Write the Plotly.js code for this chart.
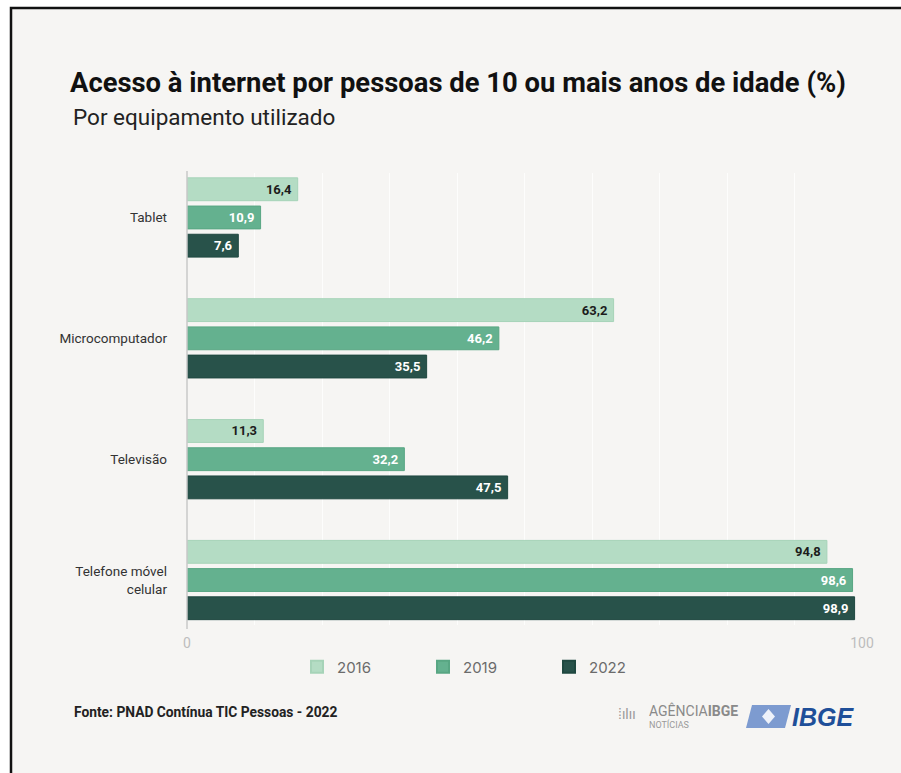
<!DOCTYPE html>
<html>
<head>
<meta charset="utf-8">
<script src="https://cdn.plot.ly/plotly-3.0.1.min.js"></script>
<style>html,body{margin:0;padding:0;background:#ffffff;}#chart{width:901px;height:773px;}</style>
</head>
<body>
<div id="chart"></div>
<script>
// ---- data ----
const categories = ["Tablet", "Microcomputador", "Televisão", "Telefone móvel<br>celular"];
const years = ["2016", "2019", "2022"];
const values2016 = [16.4, 63.2, 11.3, 94.8];
const values2019 = [10.9, 46.2, 32.2, 98.6];
const values2022 = [7.6, 35.5, 47.5, 98.9];
const xTickVals = [0, 100];
const xTickText = ["0", "100"];

// ---- styles ----
const COND = 'Roboto, "Liberation Sans", sans-serif';
const colors = ["#b4dcc4", "#64b18f", "#28524a"];
const lineColors = ["#a6d3b8", "#58a683", "#1f4840"];
const textColors = ["#1c1c1c", "#ffffff", "#ffffff"];
const seriesValues = [values2016, values2019, values2022];

const L = 187, R = 862, T = 173, B = 625;
const W = 901, H = 773;
const px = x => (x - L) / (R - L);
const py = y => (B - y) / (B - T);

const traces = years.map((yr, i) => ({
  type: "bar",
  orientation: "h",
  name: yr,
  y: categories,
  x: seriesValues[i],
  marker: {color: colors[i], line: {color: lineColors[i], width: 1}},
  texttemplate: "%{x:.1f}\u00a0",
  textposition: "inside",
  insidetextanchor: "end",
  constraintext: "none",
  textfont: {family: COND, size: 13, color: textColors[i], weight: "bold"},
  hoverinfo: "skip"
}));

const layout = {
  width: W, height: H,
  separators: ",.",
  paper_bgcolor: "#ffffff",
  plot_bgcolor: "rgba(0,0,0,0)",
  margin: {l: L, r: W - R, t: T, b: H - B, pad: 0},
  barmode: "group",
  bargap: 0.3,
  bargroupgap: 0.19,
  title: {
    text: "<b>Acesso à internet por pessoas de 10 ou mais anos de idade (%)</b>",
    x: 70 / W, xanchor: "left", xref: "container",
    y: 1 - 82 / H, yanchor: "middle", yref: "container",
    font: {family: COND, size: 27.4, color: "#111111"}
  },
  xaxis: {
    range: [0, 100],
    tickvals: xTickVals, ticktext: xTickText,
    showgrid: true, gridcolor: "#fdfdfc", gridwidth: 1,
    minor: {dtick: 10, showgrid: true, gridcolor: "#fdfdfc", gridwidth: 1, ticks: ""},
    zeroline: false,
    showline: false,
    ticks: "",
    tickfont: {family: COND, size: 14, color: "#bdbdbd"},
    ticklabelstandoff: 8,
    fixedrange: true
  },
  yaxis: {
    type: "category",
    categoryarray: categories,
    range: [3.372, -0.368],
    showgrid: false,
    zeroline: false,
    ticks: "",
    ticklabelstandoff: 19,
    tickfont: {family: COND, size: 13.5, color: "#333333"},
    fixedrange: true
  },
  legend: {
    orientation: "h",
    x: px(297), xanchor: "left",
    y: py(667), yanchor: "middle",
    font: {family: "Inter, sans-serif", size: 15, color: "#6b6b6b"},
    entrywidth: 81, entrywidthmode: "pixels",
    itemsizing: "constant",
    bgcolor: "rgba(0,0,0,0)"
  },
  shapes: [
    {type: "rect", xref: "paper", yref: "paper", layer: "below",
     x0: px(11), x1: px(915), y0: py(8), y1: py(790),
     fillcolor: "#f6f5f3", line: {color: "#111111", width: 2.5}},
    {type: "line", xref: "paper", yref: "paper", layer: "above",
     x0: 0, x1: 0, y0: py(T - 2), y1: py(629),
     line: {color: "#c9c9c9", width: 1.5}},
    {type: "path", xref: "paper", yref: "paper", layer: "above",
     path: `M ${px(752)} ${py(705)} L ${px(791)} ${py(705)} L ${px(785)} ${py(728)} L ${px(746)} ${py(728)} Z`,
     fillcolor: "#7d9bd0", line: {width: 0}},
    {type: "path", xref: "paper", yref: "paper", layer: "above",
     path: `M ${px(768.5)} ${py(709)} L ${px(775)} ${py(716.5)} L ${px(768.5)} ${py(724)} L ${px(762)} ${py(716.5)} Z`,
     fillcolor: "#eef2fa", line: {width: 0}}
  ],
  annotations: [
    {text: "Por equipamento utilizado", xref: "paper", yref: "paper",
     x: px(71), y: py(117), xanchor: "left", yanchor: "middle", showarrow: false,
     font: {family: COND, size: 22.5, color: "#222222"}},
    {text: "<b>Fonte: PNAD Contínua TIC Pessoas - 2022</b>", xref: "paper", yref: "paper",
     x: px(72), y: py(712), xanchor: "left", yanchor: "middle", showarrow: false,
     font: {family: COND, size: 13.8, color: "#222222"}},
    {text: "AGÊNCIA<b>IBGE</b>", xref: "paper", yref: "paper",
     x: px(647), y: py(710), xanchor: "left", yanchor: "middle", showarrow: false,
     font: {family: COND, size: 14, color: "#8a8a8a"}},
    {text: "NOTÍCIAS", xref: "paper", yref: "paper",
     x: px(647), y: py(724), xanchor: "left", yanchor: "middle", showarrow: false,
     font: {family: COND, size: 9, color: "#9a9a9a"}},
    {text: "⁞ılıı", xref: "paper", yref: "paper",
     x: px(616), y: py(714), xanchor: "left", yanchor: "middle", showarrow: false,
     font: {family: COND, size: 14, color: "#9a9a9a"}},
    {text: "<b><i>IBGE</i></b>", xref: "paper", yref: "paper",
     x: px(790), y: py(717), xanchor: "left", yanchor: "middle", showarrow: false,
     font: {family: '"Liberation Sans", Arial, sans-serif', size: 25, color: "#1f4f99"}}
  ],
  showlegend: true
};

Plotly.newPlot("chart", traces, layout, {displayModeBar: false, staticPlot: true});
</script>
</body>
</html>
